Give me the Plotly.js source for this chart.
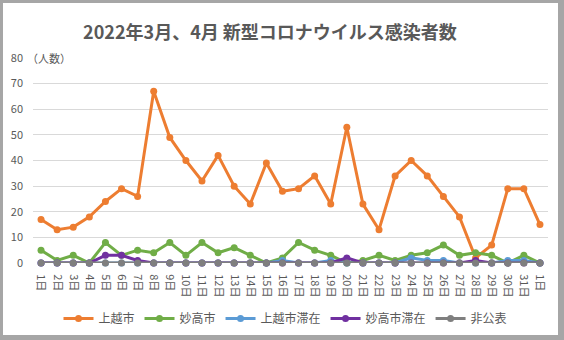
<!DOCTYPE html>
<html>
<head>
<meta charset="utf-8">
<script src="https://cdn.plot.ly/plotly-3.0.1.min.js"></script>
<style>
html,body{margin:0;padding:0;width:564px;height:340px;background:#a6a6a6;overflow:hidden;}
#chart{position:absolute;left:3px;top:3px;width:555px;height:332px;background:#fff;}
</style>
</head>
<body>
<div id="chart"></div>
<script>
const dayLabels = ['1日','2日','3日','4日','5日','6日','7日','8日','9日','10日','11日','12日','13日','14日','15日','16日','17日','18日','19日','20日','21日','22日','23日','24日','25日','26日','27日','28日','29日','30日','31日','1日'];
const seriesNames = ['上越市','妙高市','上越市滞在','妙高市滞在','非公表'];
const joetsu = [17,13,14,18,24,29,26,67,49,40,32,42,30,23,39,28,29,34,23,53,23,13,34,40,34,26,18,2,7,29,29,15];
const myoko = [5,1,3,0,8,3,5,4,8,3,8,4,6,3,0,2,8,5,3,0,1,3,1,3,4,7,3,4,3,0,3,0];
const joetsuStay = [0,0,0,0,0,0,0,0,0,0,0,0,0,0,0,1,0,0,1,0,0,0,0,2,1,1,0,0,0,1,1,0];
const myokoStay = [0,0,0,0,3,3,1,0,0,0,0,0,0,0,0,0,0,0,0,2,0,0,0,0,0,0,0,1,0,0,0,0];
const undisclosed = [0,0,0,0,0,0,0,0,0,0,0,0,0,0,0,0,0,0,0,0,0,0,0,0,0,0,0,0,0,0,0,0];
const yTicks = [0,10,20,30,40,50,60,70,80];

const colors = ['#ED7D31','#70AD47','#5B9BD5','#7030A0','#7F7F7F'];
const allSeries = [joetsu, myoko, joetsuStay, myokoStay, undisclosed];
const xIdx = dayLabels.map((_, i) => i);
const FONT = '"Noto Sans CJK JP", "Noto Sans", sans-serif';

const traces = allSeries.map((vals, k) => ({
  type: 'scatter',
  mode: 'lines+markers',
  name: seriesNames[k],
  x: xIdx,
  y: vals,
  line: {color: colors[k], width: 3},
  marker: {color: colors[k], size: 7},
  cliponaxis: false
}));

const layout = {
  width: 555,
  height: 332,
  margin: {l: 30, r: 10, t: 55, b: 72},
  paper_bgcolor: '#ffffff',
  plot_bgcolor: '#ffffff',
  font: {family: FONT, color: '#595959', size: 11},
  title: {
    text: '<b>2022年3月、4月 新型コロナウイルス感染者数</b>',
    font: {family: FONT, size: 18, color: '#595959'},
    xref: 'container', x: 0.481, xanchor: 'center',
    yref: 'container', y: 0.91, yanchor: 'middle'
  },
  xaxis: {
    range: [-0.5, 31.5],
    tickmode: 'array',
    tickvals: xIdx,
    ticktext: dayLabels,
    tickangle: 90,
    showgrid: false,
    zeroline: false,
    showline: false,
    ticks: 'outside',
    ticklen: 6,
    tickcolor: 'rgba(0,0,0,0)',
    ticklabelstandoff: 2,
    tickfont: {size: 11, color: '#595959'},
    fixedrange: true
  },
  yaxis: {
    range: [0, 80],
    tickmode: 'array',
    tickvals: yTicks,
    showgrid: true,
    gridcolor: '#D9D9D9',
    gridwidth: 1,
    zeroline: false,
    showline: false,
    ticks: '',
    ticklabelstandoff: 9,
    tickfont: {size: 11, color: '#595959'},
    fixedrange: true
  },
  showlegend: true,
  legend: {
    orientation: 'h',
    xref: 'container', x: 0.1, xanchor: 'left',
    yref: 'container', y: 0.05, yanchor: 'middle',
    font: {size: 12, color: '#595959', family: FONT},
    bgcolor: 'rgba(0,0,0,0)'
  },
  annotations: [{
    text: '（人数）',
    xref: 'paper', x: 0, xanchor: 'left', xshift: -8,
    yref: 'paper', y: 1, yanchor: 'middle',
    showarrow: false,
    font: {size: 11, color: '#595959', family: FONT}
  }]
};

Plotly.newPlot('chart', traces, layout, {displayModeBar: false, staticPlot: true});
</script>
</body>
</html>
